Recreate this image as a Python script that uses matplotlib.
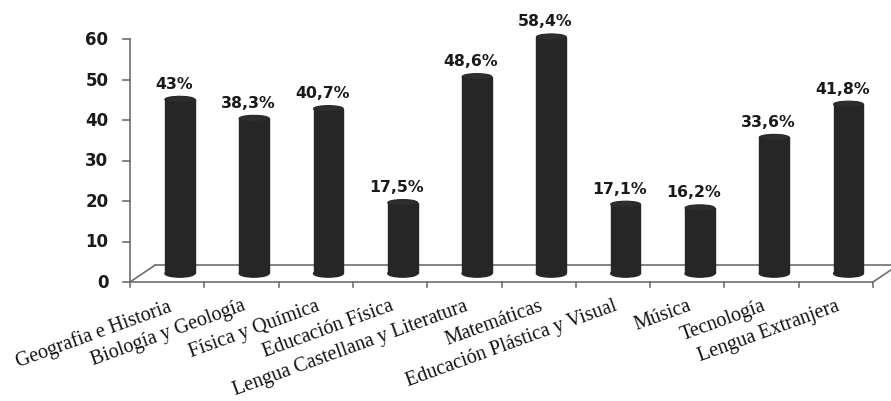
import matplotlib
matplotlib.use('Agg')
import matplotlib.pyplot as plt
from matplotlib.patches import Rectangle, Ellipse

materias = ['Geografia e Historia', 'Biología y Geología', 'Física y Química',
            'Educación Física', 'Lengua Castellana y Literatura', 'Matemáticas',
            'Educación Plástica y Visual', 'Música', 'Tecnología', 'Lengua Extranjera']
valores = [43, 38.3, 40.7, 17.5, 48.6, 58.4, 17.1, 16.2, 33.6, 41.8]
etiquetas = ['43%', '38,3%', '40,7%', '17,5%', '48,6%', '58,4%',
             '17,1%', '16,2%', '33,6%', '41,8%']
yticks = [0, 10, 20, 30, 40, 50, 60]

# fake 3d depth (in data units)
dx, dy = 0.34, 4.2
bar_w = 0.40
cap_h = 1.5
dark = '#262626'
grid = '#6e6e6e'

fig = plt.figure(figsize=(8.91, 4.02), dpi=100)
ax = fig.add_axes([130 / 891, 1 - 283 / 402, 743 / 891, 243 / 402])
ax.set_xlim(0, 10)
ax.set_ylim(0, 60)
ax.axis('off')

# floor
ax.plot([0, 10], [0, 0], color=grid, lw=1.2, clip_on=False)
ax.plot([dx, 10 + dx], [dy, dy], color=grid, lw=1.2, clip_on=False)
ax.plot([0, dx], [0, dy], color=grid, lw=1.2, clip_on=False)
ax.plot([10, 10 + dx], [0, dy], color=grid, lw=1.2, clip_on=False)

# value axis
ax.plot([0, 0], [0, 60], color=grid, lw=1.2, clip_on=False)
for t in yticks:
    ax.plot([-0.09, 0], [t, t], color=grid, lw=1.2, clip_on=False)
    ax.text(-0.29, t, str(t), ha='right', va='center', fontsize=12,
            family='DejaVu Sans', fontweight='bold', color='#1a1a1a')
for i in range(11):
    ax.plot([i, i], [0, -1.3], color=grid, lw=1.2, clip_on=False)

# cylinders
for i, (v, lab) in enumerate(zip(valores, etiquetas)):
    cx = i + 0.5 + dx / 2
    base = dy / 2
    top = v + base
    ax.add_patch(Ellipse((cx, base), bar_w, cap_h * 1.2, color=dark, clip_on=False, zorder=3))
    ax.add_patch(Rectangle((cx - bar_w / 2, base), bar_w, top - base, color=dark,
                           clip_on=False, zorder=3))
    ax.add_patch(Ellipse((cx, top), bar_w, cap_h, facecolor='#2e2e2e', edgecolor=dark,
                         lw=0.8, clip_on=False, zorder=4))
    ax.annotate(lab, (cx - 0.08, top + cap_h / 2), xytext=(0, 4), textcoords='offset points',
                ha='center', va='bottom', fontsize=11.3, family='DejaVu Sans',
                fontweight='bold', color='#1a1a1a', annotation_clip=False)

# category labels
for i, m in enumerate(materias):
    ax.annotate(m, (i + 0.5, 0), xytext=(0, -10), textcoords='offset points',
                ha='right', va='top', rotation=20, rotation_mode='anchor',
                fontsize=14.5, family='Liberation Serif', color='#111111',
                annotation_clip=False)

fig.savefig('out.png', dpi=100)
